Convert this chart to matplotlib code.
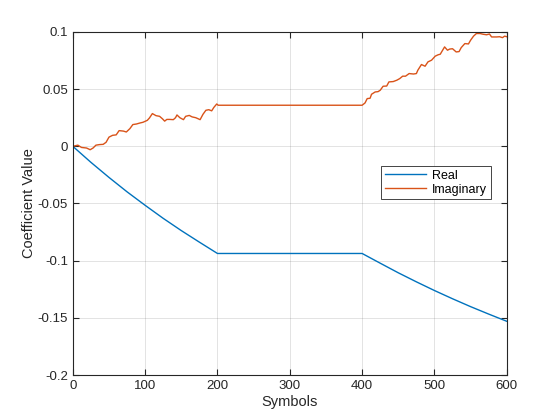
import matplotlib
matplotlib.use('Agg')
import matplotlib.pyplot as plt

plt.rcParams['font.family'] = ['Liberation Sans', 'DejaVu Sans']
plt.rcParams['axes.unicode_minus'] = False

# real part
real_x = [0, 25, 50, 75, 100, 125, 150, 175, 200, 400, 425, 450, 475, 500, 525, 550, 575, 600]
real_y = [0, -0.0140, -0.0272, -0.0398, -0.0516, -0.0630, -0.0737, -0.0838, -0.0937,
          -0.0937, -0.1022, -0.1106, -0.1185, -0.1261, -0.1333, -0.1402, -0.1467, -0.1530]

# imaginary part
imag_x = [0, 7, 12, 19, 24, 28, 32, 37, 42, 46, 50, 55, 60, 64, 70, 74, 79, 83, 88, 93,
          97, 103, 106, 110, 115, 120, 124, 127, 130, 134, 139, 142, 144, 148, 153, 156,
          161, 165, 170, 176, 180, 184, 188, 192, 195, 199, 201,
          400, 404, 407, 411, 413, 418, 422, 425, 429, 434, 437, 443, 448, 452, 456, 460,
          465, 471, 475, 477, 482, 487, 491, 496, 501, 505, 508, 514, 518, 521, 525, 530,
          534, 537, 542, 547, 550, 554, 558, 563, 567, 572, 576, 579, 586, 590, 594, 597, 600]
imag_y = [0, 0.001, -0.001, -0.0015, -0.003, -0.0015, 0.001, 0.0015, 0.0017, 0.0035,
          0.008, 0.0096, 0.010, 0.0137, 0.0133, 0.0125, 0.0155, 0.019, 0.0195, 0.0204,
          0.021, 0.0227, 0.0248, 0.0286, 0.0268, 0.0262, 0.024, 0.022, 0.0235, 0.0235,
          0.0233, 0.025, 0.0274, 0.025, 0.0233, 0.0262, 0.027, 0.0257, 0.025, 0.0233,
          0.028, 0.0315, 0.032, 0.031, 0.034, 0.0370, 0.0359,
          0.0359, 0.0379, 0.0417, 0.0420, 0.0455, 0.0475, 0.0478, 0.049, 0.0525, 0.0527,
          0.0563, 0.0566, 0.0578, 0.0592, 0.0613, 0.0613, 0.0636, 0.0632, 0.0636, 0.0665,
          0.0715, 0.070, 0.0738, 0.0753, 0.0788, 0.080, 0.0805, 0.0869, 0.084, 0.085,
          0.0853, 0.0825, 0.0828, 0.0863, 0.0898, 0.0895, 0.0928, 0.0963, 0.0986, 0.0986,
          0.098, 0.0975, 0.0982, 0.0956, 0.0956, 0.0958, 0.095, 0.0963, 0.0958]

fig = plt.figure(figsize=(5.6, 4.2), dpi=100)
ax = fig.add_axes([0.13, 0.107, 0.775, 0.817])

ax.plot(real_x, real_y, color='#0072BD', lw=1, label='Real')
ax.plot(imag_x, imag_y, color='#D95319', lw=1, label='Imaginary')

ax.set_xlim(0, 600)
ax.set_ylim(-0.2, 0.1)
ax.set_xticks([0, 100, 200, 300, 400, 500, 600])
ax.set_yticks([-0.2, -0.15, -0.1, -0.05, 0, 0.05, 0.1])
ax.set_yticklabels(['-0.2', '-0.15', '-0.1', '-0.05', '0', '0.05', '0.1'])
ax.grid(True, color='#262626', alpha=0.15, lw=0.6)
ax.tick_params(direction='in', top=True, right=True, labelsize=9.5, colors='#262626', length=4)
for s in ax.spines.values():
    s.set_color('#262626')
    s.set_linewidth(0.8)

ax.set_xlabel('Symbols', fontsize=10.5, color='#262626', labelpad=2)
ax.set_ylabel('Coefficient Value', fontsize=10.5, color='#262626', labelpad=1)

leg = ax.legend(loc='upper left', bbox_to_anchor=(0.71, 0.609), fontsize=9,
                fancybox=False, framealpha=1, edgecolor='#262626',
                handlelength=3.3, borderpad=0.3, labelspacing=0.15, handletextpad=0.5,
                borderaxespad=0)
leg.get_frame().set_linewidth(0.6)

fig.savefig('out.png', dpi=100)
